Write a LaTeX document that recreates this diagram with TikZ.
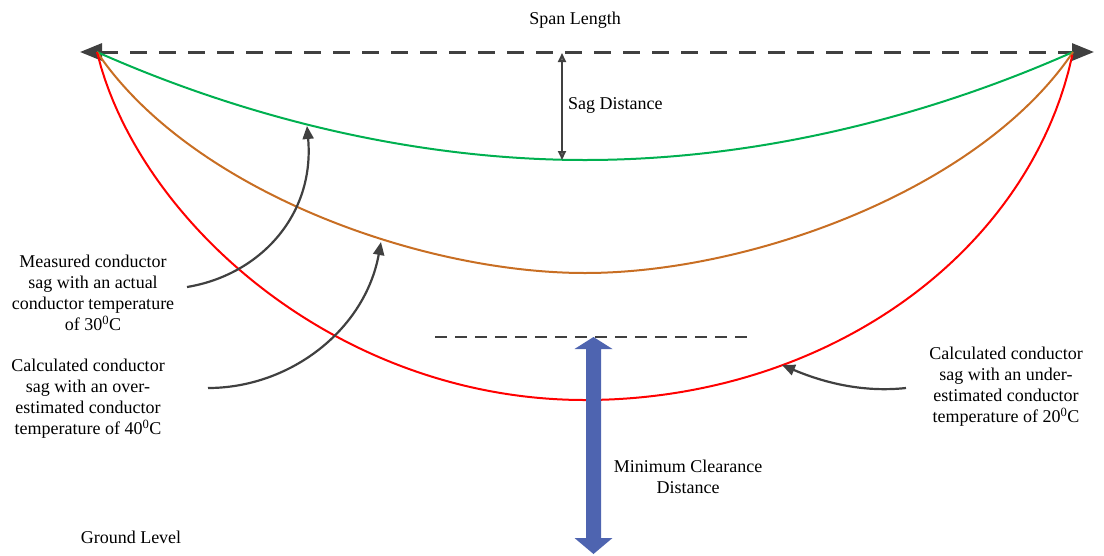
\documentclass[tikz,border=0pt]{standalone}
\usepackage{fontspec}
\setmainfont{Liberation Serif}
\usetikzlibrary{arrows.meta}
\definecolor{dk}{RGB}{64,64,64}
\definecolor{cgreen}{RGB}{0,176,80}
\definecolor{corange}{RGB}{200,110,35}
\definecolor{cred}{RGB}{255,0,0}
\definecolor{cblue}{RGB}{78,100,176}
\tikzset{
  bigtip/.tip={Triangle[length=22pt,width=17pt]},
  smalltip/.tip={Triangle[length=9pt,width=8pt,fill=gray]}}
\begin{document}
\begin{tikzpicture}[x=1pt,y=-1pt,
  lbl/.style={font=\fontsize{18}{21}\selectfont, align=center, inner sep=0pt},
  wire/.style={line width=2pt},
  pointer/.style={dk, line width=2.2pt, -{Triangle[length=13pt,width=11pt]}}]
\useasboundingbox (0,0) rectangle (1104,555);
% span line
\coordinate (Ltip) at (80,52);
\coordinate (Rtip) at (1094,52);
\coordinate (L) at (97,52);
\coordinate (R) at (1073,52);
\draw[dk, line width=3pt, dash pattern=on 17pt off 12pt, bigtip-bigtip] (Ltip) -- (Rtip);
% curves
\coordinate (gmin) at (585,160);
\coordinate (omin) at (585,273);
\coordinate (rmin) at (585,400);
\draw[cgreen, wire] (L) .. controls (250,120) and (420,160) .. (gmin) .. controls (750,160) and (920,120) .. (R);
\draw[corange, wire] (L) .. controls (190,190) and (420,273) .. (omin) .. controls (750,273) and (980,190) .. (R);
\draw[cred, wire, line join=round]
  plot[domain=1:0, samples=120, variable=\t]
    ({585-488*\t}, {400-348*(0.8*(1-sqrt(1-0.97*\t*\t))/0.826795+0.2*\t*\t)})
  -- plot[domain=0:1, samples=120, variable=\t]
    ({585+488*\t}, {400-348*(1-sqrt(1-0.97*\t*\t))/0.826795});
% sag distance
\coordinate (sagtop) at (562,53);
\coordinate (sagbot) at (562,160);
\draw[dk, line width=2pt, smalltip-smalltip] (sagtop) -- (sagbot);
% labels
\node[lbl] (span) at (575,20) {Span Length};
\node[lbl, anchor=west] (sag) at (568,105) {Sag Distance};
\node[lbl] (meas) at (93,293) {Measured conductor\\sag with an actual\\conductor temperature\\of 30\textsuperscript{0}C};
\node[lbl] (over) at (88,399) {Calculated conductor\\sag with an over-\\estimated conductor\\temperature of 40\textsuperscript{0}C};
\node[lbl] (under) at (1006,387) {Calculated conductor\\sag with an under-\\estimated conductor\\temperature of 20\textsuperscript{0}C};
\node[lbl] (minc) at (688,477) {Minimum Clearance\\Distance};
\node[lbl] (ground) at (131,537) {Ground Level};
% pointers
\coordinate (m0) at (187,287); \coordinate (m1) at (307,126);
\coordinate (o0) at (208,388); \coordinate (o1) at (381,242);
\coordinate (u0) at (906,388); \coordinate (u1) at (782,365);
\draw[pointer] (m0) .. controls (260,275) and (315,215) .. (m1);
\draw[pointer] (o0) .. controls (290,388) and (365,330) .. (o1);
\draw[pointer] (u0) .. controls (860,393) and (820,381) .. (u1);
% clearance
\coordinate (c0) at (435,337); \coordinate (c1) at (750,337);
\draw[dk, line width=1.5pt, dash pattern=on 12pt off 8pt] (c0) -- (c1);
\fill[cblue] (593.5,337) -- (612.5,349) -- (601,349) -- (601,538) -- (612.5,538) -- (593.5,554) -- (574.5,538) -- (586,538) -- (586,349) -- (574.5,349) -- cycle;
\end{tikzpicture}
\end{document}
